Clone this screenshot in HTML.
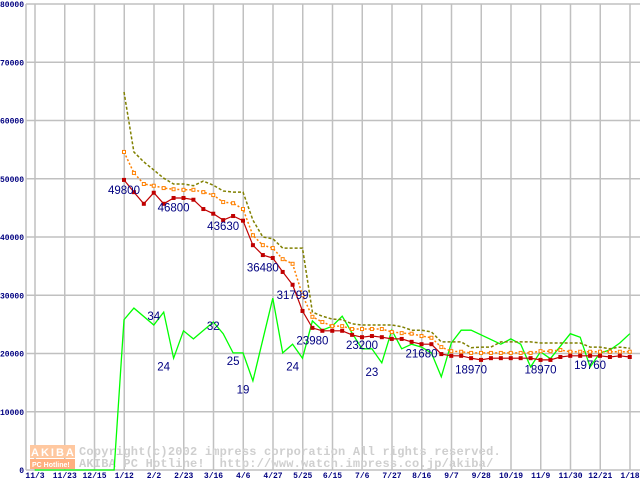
<!DOCTYPE html>
<html><head><meta charset="utf-8"><style>
body{margin:0;background:#fff;}
svg{display:block;}
.tk{font-family:"Liberation Mono",monospace;font-size:8px;font-weight:bold;fill:#000080;}
.lb{font-family:"Liberation Sans",sans-serif;font-size:11.5px;fill:#000080;}
.wm{font-family:"Liberation Mono",monospace;font-size:12px;font-weight:bold;fill:#cfcfcf;letter-spacing:0.2px;white-space:pre;}
</style></head><body>
<svg id="chart" width="640" height="480" xmlns="http://www.w3.org/2000/svg">
<g id="grid"></g>
<g id="wmark">
  <rect x="30" y="445" width="45" height="13" fill="#ffc8a0"/>
  <text x="31" y="456" font-family="Liberation Sans,sans-serif" font-size="11" font-weight="bold" fill="#fff" letter-spacing="2">AKIBA</text>
  <rect x="30" y="459" width="45" height="10" fill="#ffb080"/>
  <text x="32" y="467" font-family="Liberation Sans,sans-serif" font-size="7" font-weight="bold" fill="#fff">PC Hotline!</text>
  <text class="wm" x="79" y="455">Copyright(c)2002 impress corporation All rights reserved.</text>
  <text class="wm" x="79" y="467" xml:space="preserve">AKIBA PC Hotline!  http://www.watch.impress.co.jp/akiba/</text>
</g>
<g id="series"></g>
<g id="labels"></g>
</svg>
<script>
const yTicks=[0,10000,20000,30000,40000,50000,60000,70000,80000];
const xTickLabels=["11/3","11/23","12/15","1/12","2/2","2/23","3/16","4/6","4/27","5/25","6/15","7/6","7/27","8/16","9/7","9/28","10/19","11/9","11/30","12/21","1/18"];
const minPrice=[49800,47700,45700,47600,45700,46700,46700,46400,44800,44000,42900,43600,42800,38600,36900,36400,34000,31800,27300,24400,23900,23900,23900,23200,22800,23000,22800,22500,22500,22000,21600,21600,19900,19600,19600,19200,18900,19200,19200,19200,19200,19200,18900,18900,19400,19600,19600,19600,19600,19400,19600,19400];
const avgPrice=[54600,51000,49100,48800,48400,48200,48100,48100,47700,47200,46000,45800,44800,40300,38600,38100,36200,35400,30000,26300,25400,24700,24700,24200,24200,24200,24200,23700,23500,23400,23000,22700,21100,20400,20300,20100,20100,20100,20100,20100,20100,20100,20400,20400,20600,20300,20300,20300,20300,20300,20300,20300];
const maxPrice=[64900,54600,52900,51500,50100,49100,49100,48800,49600,48900,47900,47700,47700,42900,40000,39700,38100,38100,38100,27100,26400,25900,25800,25100,24900,24900,24900,24900,24600,24000,24000,23700,22000,22000,22000,21000,21100,21100,22000,22000,22000,22000,21800,21800,21800,21800,21800,21100,21100,20800,21100,20900];
const shopWeeks=[-9,-1,0,1,3,4,5,6,7,9,10,11,12,13,15,16,17,18,19,20,21,22,23,24,25,26,27,28,29,30,31,32,33,34,35,38,39,40,41,42,43,45,46,47,48,49,50,51];
const shopValues=[0,0,25800,27800,24900,27100,19200,23900,22500,25400,23400,20100,20100,15300,29500,20100,21600,19200,25600,24000,24700,26400,23500,20800,20800,18400,24000,20800,21600,21100,20100,16000,21800,24000,24000,21600,22500,21600,17700,20300,19100,23400,22800,17700,20100,20600,21800,23400];
const priceLabels=["49800","46800","43630","36480","31799","23980","23200","21680","18970","18970","19760"];
const priceLabelWeeks=[0,5,10,14,17,19,24,30,35,42,47];
const priceLabelValues=[49800,46800,43630,36480,31799,23980,23200,21680,18970,18970,19760];
const shopLabels=["34","24","32","25","19","24","23"];
const shopLabelWeeks=[3,4,9,11,12,17,25];
const shopLabelValues=[26400,17800,24700,18700,13800,17800,16800];

const NS="http://www.w3.org/2000/svg";
const X0=124, DX=9.917, Y0=470, PY=0.005825;
function x(i){return X0+i*DX;}
function y(v){return Y0-v*PY;}
function mk(tag,attrs,parent){const e=document.createElementNS(NS,tag);for(const k in attrs)e.setAttribute(k,attrs[k]);parent.appendChild(e);return e;}
const grid=document.getElementById('grid');
const ser=document.getElementById('series');
const lab=document.getElementById('labels');

let ax=mk('line',{x1:26,y1:4,x2:26,y2:470,stroke:'#c0c0c0','stroke-width':1.5},grid);


yTicks.forEach(v=>{
  const l=mk('line',{x1:26,y1:y(v),x2:640,y2:y(v),stroke:'#c0c0c0','stroke-width':1.5},grid);
  
  
  const t=mk('text',{x:24,y:y(v)+3,'text-anchor':'end',class:'tk'},grid);
  t.textContent=v;
  
  
});
xTickLabels.forEach((s,i)=>{
  const gx=35+i*29.75;
  const l=mk('line',{x1:gx,y1:4,x2:gx,y2:470,stroke:'#c0c0c0','stroke-width':1.5},grid);
  
  
  const t=mk('text',{x:gx,y:478,'text-anchor':'middle',class:'tk'},grid);
  t.textContent=s;
  
  
});

function pts(ws,vs){return vs.map((v,k)=>x(ws?ws[k]:k).toFixed(1)+','+y(v).toFixed(1)).join(' ');}

let g=mk('polyline',{points:pts(shopWeeks,shopValues),fill:'none',stroke:'#00ff00','stroke-width':1.3},ser);


let m=mk('polyline',{points:pts(null,maxPrice),fill:'none',stroke:'#808000','stroke-width':1.5,'stroke-dasharray':'3,2'},ser);


let a=mk('polyline',{points:pts(null,avgPrice),fill:'none',stroke:'#ff8000','stroke-width':1.5,'stroke-dasharray':'2,2'},ser);


avgPrice.forEach((v,i)=>{
  const r=mk('rect',{x:x(i)-1.5,y:y(v)-1.5,width:3,height:3,fill:'#fff',stroke:'#ff8000','stroke-width':1},ser);
  
  
});
let r0=mk('polyline',{points:pts(null,minPrice),fill:'none',stroke:'#c00000','stroke-width':1.2},ser);


minPrice.forEach((v,i)=>{
  const r=mk('rect',{x:x(i)-2,y:y(v)-2,width:4,height:4,fill:'#c00000'},ser);
  
  
});

priceLabels.forEach((s,k)=>{
  const t=mk('text',{x:x(priceLabelWeeks[k]),y:y(priceLabelValues[k])+14,'text-anchor':'middle',class:'lb'},lab);
  t.textContent=s;
  
  
});
shopLabels.forEach((s,k)=>{
  const t=mk('text',{x:x(shopLabelWeeks[k]),y:y(shopLabelValues[k])+4,'text-anchor':'middle',class:'lb'},lab);
  t.textContent=s;
  
  
});
</script>
</body></html>
